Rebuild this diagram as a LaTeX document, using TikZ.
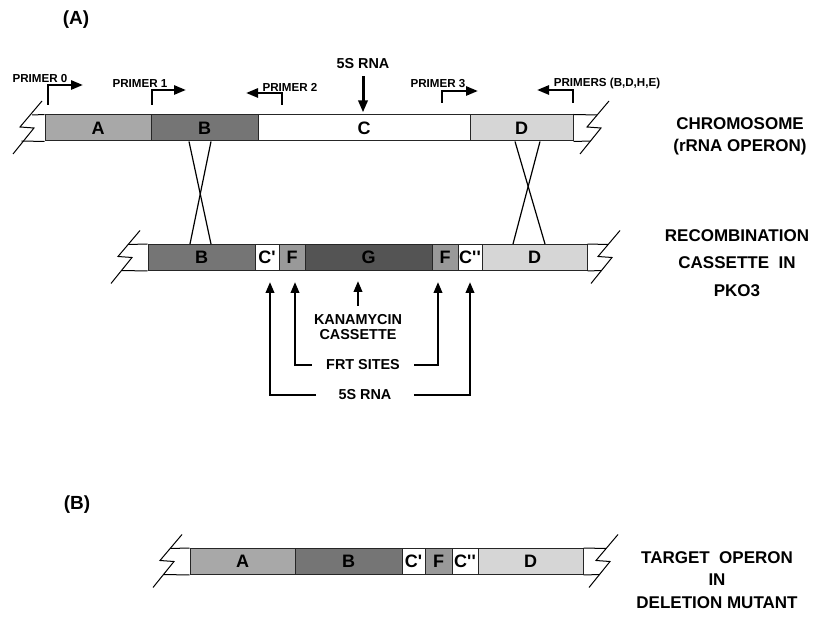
\documentclass[tikz,border=0pt]{standalone}
\usepackage{fontspec}
\setmainfont{Liberation Sans}
\newfontfamily\plainsans{Liberation Sans}
\usetikzlibrary{arrows.meta,positioning}

\definecolor{grA}{gray}{0.66}
\definecolor{grB}{gray}{0.46}
\definecolor{grD}{gray}{0.84}
\definecolor{grF}{gray}{0.60}
\definecolor{grG}{gray}{0.33}

\tikzset{
    brk/.pic={\draw[line width=0.5pt] (22,-26) -- (0,0) -- (14,1) -- (-7,27);}
}

\begin{document}
\begin{tikzpicture}[x=0.5pt, y=-0.5pt,
    seg/.style={draw=black!85, line width=0.5pt, minimum height=13pt, inner sep=0pt, font=\plainsans\fontsize{9}{9}\selectfont\bfseries},
    endline/.style={line width=0.5pt},
    xing/.style={line width=0.6pt},
    lbl/.style={font=\fontsize{5.8}{6}\selectfont\bfseries, inner sep=0pt},
    note/.style={font=\fontsize{7.2}{7.7}\selectfont\bfseries, align=center, inner sep=0pt},
    side/.style={font=\fontsize{8.5}{11}\selectfont\bfseries, align=center},
    tag/.style={font=\fontsize{9.5}{10}\selectfont\bfseries},
    parr/.style={-{Triangle[length=6pt,width=4.5pt]}, line width=1.3pt},
    arr/.style={-{Triangle[length=5.5pt,width=4.2pt]}, line width=1.2pt}
]
\useasboundingbox (0,0) rectangle (824,624);

% (A) chromosome
\node[tag] (tagA) at (76,20) {(A)};
\node[seg, fill=grA, minimum width=53pt] (tA) at (98,128) {A};
\node[seg, fill=grB, minimum width=53.5pt] (tB) at (204.5,128) {B};
\node[seg, fill=white, minimum width=106pt] (tC) at (364,128) {C};
\node[seg, fill=grD, minimum width=51.5pt] (tD) at (521.5,128) {D};
\draw[endline] (tA.north west) -- (32,115) (tA.south west) -- (21.5,141);
\pic at (20,127) {brk};
\draw[endline] (tD.north east) -- (597,115) (tD.south east) -- (590.5,141);
\pic at (587,127) {brk};
\node[side] (chrom) at (740,136) {CHROMOSOME\\(rRNA OPERON)};

% primers
\node[lbl] (pr0) at (40,79) {PRIMER 0};
\node[lbl] (pr1) at (140,84) {PRIMER 1};
\node[lbl] (pr2) at (290,87) {PRIMER 2};
\node[lbl] (pr3) at (438,84) {PRIMER 3};
\node[lbl] (prx) at (607,84) {PRIMERS (B,D,H,E)};
\coordinate (p0) at (48,105);  \coordinate (p0e) at (83,85);
\coordinate (p1) at (152,105); \coordinate (p1e) at (186,90);
\coordinate (p2) at (282,105); \coordinate (p2e) at (246,93);
\coordinate (p3) at (442,103); \coordinate (p3e) at (478,91);
\coordinate (px) at (573,103); \coordinate (pxe) at (537,90);
\draw[parr] (p0) |- (p0e);
\draw[parr] (p1) |- (p1e);
\draw[parr] (p2) |- (p2e);
\draw[parr] (p3) |- (p3e);
\draw[parr] (px) |- (pxe);

\node[note] (rna) at (363,64) {5S RNA};
\draw[parr, line width=1.5pt, shorten <=3.5pt, shorten >=1pt] (rna) -- (rna |- tC.north);

% recombination cassette
\node[seg, fill=grB, minimum width=53.5pt] (lB) at (201.5,257.5) {B};
\node[seg, fill=white, minimum width=12pt] (lC1) at (267,257.5) {C'};
\node[seg, fill=grF, minimum width=13pt] (lF1) at (292,257.5) {F};
\node[seg, fill=grG, minimum width=63.5pt] (lG) at (368.5,257.5) {G};
\node[seg, fill=grF, minimum width=13pt] (lF2) at (445,257.5) {F};
\node[seg, fill=white, minimum width=12pt] (lC2) at (470,257.5) {C''};
\node[seg, fill=grD, minimum width=52.5pt] (lD) at (534.5,257.5) {D};
\draw[endline] (lB.north west) -- (128,244.5) (lB.south west) -- (121.5,270.5);
\pic at (118,256.5) {brk};
\draw[endline] (lD.north east) -- (608,244.5) (lD.south east) -- (601.5,270.5);
\pic at (598,256.5) {brk};
\node[side, font=\fontsize{8.5}{13.75}\selectfont\bfseries] (recomb) at (737,263) {RECOMBINATION\\CASSETTE\ \ IN\\PKO3};

% crossovers
\draw[xing] ([xshift=-7.75pt]tB.south) -- ([xshift=4.75pt]lB.north);
\draw[xing] ([xshift=3.25pt]tB.south) -- ([xshift=-5.75pt]lB.north);
\draw[xing] ([xshift=-3.25pt]tD.south) -- ([xshift=5.25pt]lD.north);
\draw[xing] ([xshift=9.25pt]tD.south) -- ([xshift=-10.75pt]lD.north);

% cassette labels
\node[note] (kan) at (358,327) {KANAMYCIN\\CASSETTE};
\draw[arr, shorten <=4pt, shorten >=5pt] (kan) -- (kan |- lG.south);
\node[note, inner xsep=7pt] (frt) at (363,365) {FRT SITES};
\draw[arr, shorten >=5.5pt] (frt.west) -| ([xshift=1.5pt]lF1.south);
\draw[arr, shorten >=5.5pt] (frt.east) -| ([xshift=-3.5pt]lF2.south);
\node[note, inner xsep=11pt] (rna2) at (365,395) {5S RNA};
\draw[arr, shorten >=5.5pt] (rna2.west) -| ([xshift=1.5pt]lC1.south);
\draw[arr, shorten >=5.5pt] (rna2.east) -| (lC2.south);

% (B) deletion mutant
\node[tag] (tagB) at (77,505) {(B)};
\node[seg, fill=grA, minimum width=52.5pt] (bA) at (242.5,561.5) {A};
\node[seg, fill=grB, minimum width=53.5pt] (bB) at (348.5,561.5) {B};
\node[seg, fill=white, minimum width=11.5pt] (bC1) at (413.5,561.5) {C'};
\node[seg, fill=grF, minimum width=13.5pt] (bF) at (438.5,561.5) {F};
\node[seg, fill=white, minimum width=13pt] (bC2) at (465,561.5) {C''};
\node[seg, fill=grD, minimum width=52.5pt] (bD) at (530.5,561.5) {D};
\draw[endline] (bA.north west) -- (170,548.5) (bA.south west) -- (163.5,574.5);
\pic at (160,560.5) {brk};
\draw[endline] (bD.north east) -- (606,548.5) (bD.south east) -- (599.5,574.5);
\pic at (596,560.5) {brk};
\node[side, font=\fontsize{8.5}{11.25}\selectfont\bfseries] (target) at (717,580) {TARGET\ \ OPERON\\IN\\DELETION MUTANT};
\end{tikzpicture}
\end{document}
